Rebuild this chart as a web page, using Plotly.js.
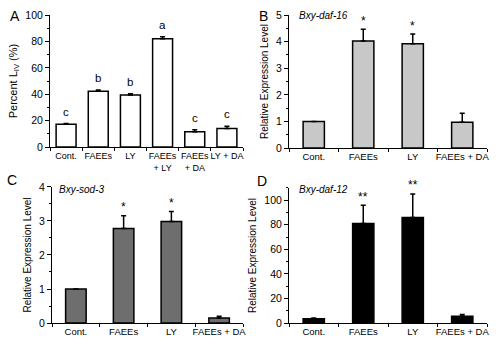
<!DOCTYPE html>
<html><head><meta charset="utf-8">
<script src="https://cdn.plot.ly/plotly-3.0.1.min.js"></script>
<style>html,body{margin:0;padding:0;background:#fff}#c{width:500px;height:350px}</style>
</head><body><div id="c"></div>
<script>
const catsA = ["Cont.", "FAEEs", "LY", "FAEEs<br>+ LY", "FAEEs<br>+ DA", "LY + DA"];
const valsA = [17.3, 42.2, 39.5, 82.0, 11.5, 14.0];
const errA  = [0.6, 1.0, 0.8, 1.5, 1.6, 1.8];
const lettersA = ["c", "b", "b", "a", "c", "c"];

const catsBCD = ["Cont.", "FAEEs", "LY", "FAEEs + DA"];
const valsB = [1.0, 4.02, 3.92, 0.97];
const errB  = [0.0, 0.45, 0.37, 0.34];
const starsB = ["", "*", "*", ""];

const valsC = [1.0, 2.78, 2.98, 0.15];
const errC  = [0.0, 0.37, 0.30, 0.05];
const starsC = ["", "*", "*", ""];

const valsD = [3.6, 81.0, 86.0, 5.5];
const errD  = [0.5, 15.0, 19.0, 1.4];
const starsD = ["", "**", "**", ""];

const FONT = "Liberation Sans, Arial, sans-serif";

function barTrace(x, y, err, color, xa, ya, w) {
  return {
    type: "bar", x: x, y: y, xaxis: xa, yaxis: ya, width: w,
    marker: {color: color, line: {color: "#000", width: 1.5}},
    error_y: {type: "data", symmetric: false, array: err, arrayminus: err.map(() => 0),
              color: "#000", thickness: 1.5, width: 2.5},
    hoverinfo: "skip", showlegend: false
  };
}

const data = [
  barTrace(catsA, valsA, errA, "#ffffff", "x", "y", 0.62),
  barTrace(catsBCD, valsB, errB, "#c8c8c8", "x2", "y2", 0.43),
  barTrace(catsBCD, valsC, errC, "#6e6e6e", "x3", "y3", 0.43),
  barTrace(catsBCD, valsD, errD, "#000000", "x4", "y4", 0.43)
];

function xax(domain, anchor, size) {
  return {domain: domain, anchor: anchor, type: "category", showline: true, linecolor: "#000", linewidth: 1,
          ticks: "outside", tickson: "boundaries", ticklen: 3, tickcolor: "#000", showgrid: false, zeroline: false,
          tickangle: 0, tickfont: {family: FONT, size: size, color: "#000"}, fixedrange: true};
}
function yax(domain, anchor, range, dtick, minor, title, tsize) {
  return {domain: domain, anchor: anchor, range: range, dtick: dtick, tick0: 0, showline: true, linecolor: "#000",
          linewidth: 1, ticks: "outside", ticklen: 4, tickcolor: "#000", showgrid: false, zeroline: false,
          minor: {dtick: minor, ticks: "outside", ticklen: 2, tickcolor: "#000"},
          tickfont: {family: FONT, size: 10.5, color: "#000"},
          title: {text: title, font: {family: FONT, size: tsize, color: "#000"}, standoff: 5}, fixedrange: true};
}

const annotations = [];
function addMarks(cats, vals, errs, texts, xa, ya, ymax, off, size) {
  cats.forEach((c, i) => {
    if (!texts[i]) return;
    annotations.push({x: c, y: (vals[i] + errs[i] + off) / ymax, xref: xa, yref: ya + " domain", text: texts[i],
      showarrow: false, yanchor: "middle", font: {family: FONT, size: size, color: "#000"}});
  });
}
addMarks(catsA, valsA, errA, lettersA, "x", "y", 100, 9, 11.5);
addMarks(catsBCD, valsB, errB, starsB, "x2", "y2", 5, 0.3, 12);
addMarks(catsBCD, valsC, errC, starsC, "x3", "y3", 4, 0.25, 12);
addMarks(catsBCD, valsD, errD, starsD, "x4", "y4", 110, 7, 12);

const panelLetters = [["A", 15, 16], ["B", 263, 16], ["C", 12, 180], ["D", 262, 181]];
panelLetters.forEach(p => annotations.push({x: p[1] / 500, y: 1 - p[2] / 350, xref: "paper", yref: "paper",
  text: p[0], showarrow: false, xanchor: "center", yanchor: "middle", font: {family: FONT, size: 14, color: "#000"}}));

const genes = [["Bxy-daf-16", 297, 16], ["Bxy-sod-3", 57, 190], ["Bxy-daf-12", 297, 189]];
genes.forEach(g => annotations.push({x: g[1] / 500, y: 1 - g[2] / 350, xref: "paper", yref: "paper",
  text: "<i>" + g[0] + "</i>", showarrow: false, xanchor: "left", yanchor: "middle",
  font: {family: FONT, size: 10, color: "#000"}}));

const layout = {
  width: 500, height: 350, margin: {l: 0, r: 0, t: 0, b: 0},
  paper_bgcolor: "#fff", plot_bgcolor: "#fff",
  xaxis: xax([0.1, 0.486], "y", 9),
  yaxis: yax([0.58, 0.957], "x", [0, 100], 20, 10, "Percent L<sub>IV</sub> (%)", 11),
  xaxis2: xax([0.578, 0.974], "y2", 9.5),
  yaxis2: yax([0.577, 0.957], "x2", [0, 5], 1, 0.5, "Relative Expression Level", 10),
  xaxis3: xax([0.104, 0.486], "y3", 9.5),
  yaxis3: yax([0.077, 0.466], "x3", [0, 4], 1, 0.5, "Relative Expression Level", 10),
  xaxis4: xax([0.578, 0.974], "y4", 9.5),
  yaxis4: yax([0.077, 0.463], "x4", [0, 110], 20, 10, "Relative Expression Level", 10),
  annotations: annotations
};
Plotly.newPlot("c", data, layout, {staticPlot: true, displayModeBar: false});
</script></body></html>
